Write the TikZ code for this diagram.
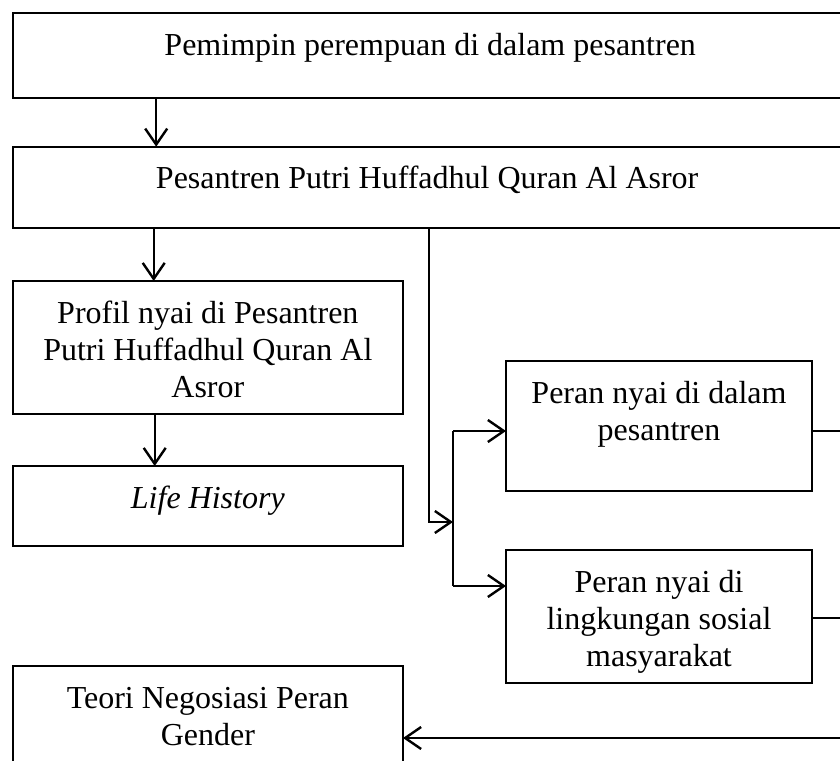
\documentclass[tikz,border=0pt]{standalone}
\usepackage{fontspec}
\setmainfont{Liberation Serif}
\usetikzlibrary{arrows.meta}
\tikzset{
  box/.style={draw, line width=1.7pt, inner sep=0pt, outer sep=0pt, anchor=north west},
  txt/.style={font=\fontsize{32}{37}\selectfont, align=center, inner sep=0pt, anchor=base},
  link/.style={line width=2.4pt},
  conn/.style={line width=2.4pt, -{Straight Barb[length=16pt,width=22pt,line width=2.4pt]}}
}
\begin{document}
\begin{tikzpicture}[x=1pt,y=-1pt]
\useasboundingbox (0,0) rectangle (840,760);
\clip (0,0) rectangle (840,760);
\fill[white] (0,0) rectangle (840,760);
% boxes
\node[box, minimum width=835pt, minimum height=85pt] (b1) at (12.7,12.7) {};
\node[box, minimum width=835pt, minimum height=81pt] (b2) at (12.7,146.7) {};
\node[box, minimum width=390.3pt, minimum height=133pt] (profil) at (12.7,281) {};
\node[box, minimum width=390.3pt, minimum height=80pt] (life) at (12.7,466) {};
\node[box, minimum width=390.3pt, minimum height=120pt] (teori) at (12.7,666) {};
\node[box, minimum width=306pt, minimum height=130pt] (peran1) at (506,361) {};
\node[box, minimum width=306pt, minimum height=133pt] (peran2) at (506,550) {};
% texts (base anchor of a multi-line node is its last line)
\node[txt] (t1) at ([yshift=-42.5pt]b1.north) {Pemimpin perempuan di dalam pesantren};
\node[txt] (t2) at ([yshift=-41.5pt,xshift=-3pt]b2.north) {Pesantren Putri Huffadhul Quran Al Asror};
\node[txt] (t3) at ([yshift=-116pt]profil.north) {Profil nyai di Pesantren\\Putri Huffadhul Quran Al\\Asror};
\node[txt] (t4) at ([yshift=-42pt]life.north) {\textit{Life History}};
\node[txt] (t5) at ([yshift=-79pt]teori.north) {Teori Negosiasi Peran\\Gender};
\node[txt] (t6) at ([yshift=-79pt]peran1.north) {Peran nyai di dalam\\pesantren};
\node[txt] (t7) at ([yshift=-116pt]peran2.north) {Peran nyai di\\lingkungan sosial\\masyarakat};
% junction coordinates
\coordinate (j) at (453,522);
\coordinate (jtop) at (453,431);
\coordinate (jbot) at (453,586);
\coordinate (r1) at (848,431);
\coordinate (r2) at (848,618);
\coordinate (r3) at (848,738);
% connectors
\draw[conn] ([xshift=143.5pt]b1.south west) -- ([xshift=143.5pt]b2.north west);
\draw[conn] ([xshift=141pt]b2.south west) -- ([xshift=141pt]profil.north west);
\draw[conn] ([xshift=142pt]profil.south west) -- ([xshift=142pt]life.north west);
\draw[conn] ([xshift=416pt]b2.south west) |- (j);
\draw[link] (jtop) -- (jbot);
\draw[conn] (jtop) -- (jtop -| peran1.west);
\draw[conn] (jbot) -- (jbot -| peran2.west);
\draw[link] (peran1.east |- r1) -- (r1);
\draw[link] (peran2.east |- r2) -- (r2);
\draw[conn] (r3) -- (r3 -| teori.east);
\end{tikzpicture}
\end{document}
